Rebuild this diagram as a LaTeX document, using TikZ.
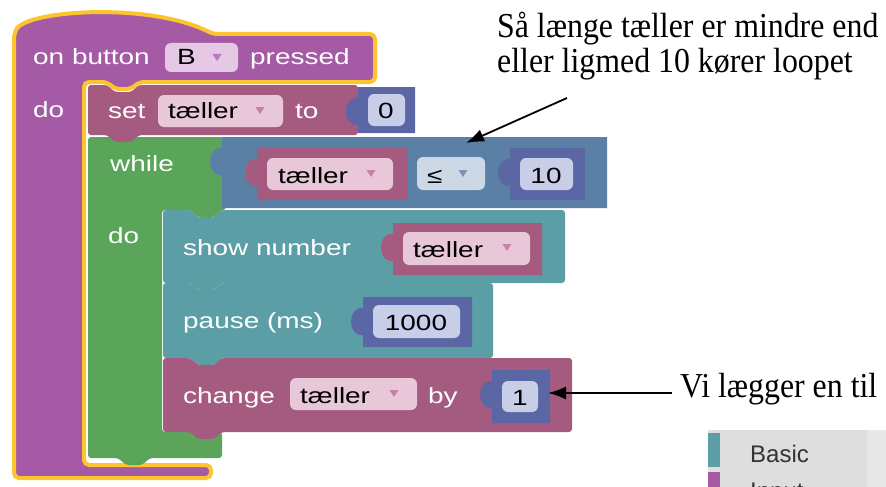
\documentclass[tikz,border=0pt]{standalone}
\usepackage{fontspec}
\setmainfont{Liberation Serif}
\newfontfamily\blokfont[FakeStretch=1.27]{Liberation Sans}
\newfontfamily\menufont{Liberation Sans}
\newfontfamily\notefont[FakeStretch=0.91]{Liberation Serif}
\usepackage{tikz}
\usetikzlibrary{arrows.meta, positioning}
\definecolor{lillaEvt}{RGB}{165,90,165}
\definecolor{gulValgt}{RGB}{252,196,46}
\definecolor{vinVar}{RGB}{165,91,128}
\definecolor{groenLoop}{RGB}{91,165,91}
\definecolor{blaaLogik}{RGB}{91,128,165}
\definecolor{blaaTal}{RGB}{91,103,165}
\definecolor{tealBasis}{RGB}{92,158,166}
\definecolor{feltVar}{RGB}{232,200,216}
\definecolor{feltEvt}{RGB}{228,200,228}
\definecolor{feltTal}{RGB}{200,205,232}
\definecolor{feltLogik}{RGB}{204,216,230}
\definecolor{pilVar}{RGB}{196,130,165}
\definecolor{pilEvt}{RGB}{190,120,190}
\definecolor{pilLogik}{RGB}{120,150,180}

% hak i toppen / tap i bunden af en blok
\newcommand{\dent}[2]{-- (#1,#2) -- ({#1+8},{#2+7}) -- ({#1+24},{#2+7}) -- ({#1+32},#2)}
\newcommand{\knob}[2]{-- ({#1+32},#2) -- ({#1+24},{#2+7}) -- ({#1+8},{#2+7}) -- (#1,#2)}
% vaerdiblok med tap i venstre side
\newcommand{\valblk}[5]{\fill[#5] (#1,#2) -- (#3,#2) -- (#3,#4) -- (#1,#4) -- (#1,{#2+38})
  .. controls ({#1-16},{#2+40}) and ({#1-16},{#2+9}) .. (#1,{#2+11}) -- cycle;}
\newcommand{\drop}[3]{\fill[#3] ({#1-4.5},{#2-3}) -- ({#1+4.5},{#2-3}) -- (#1,{#2+4}) -- cycle;}

\begin{document}
\begin{tikzpicture}[x=1pt, y=-1pt,
  lbl/.style={font=\blokfont\fontsize{22}{22}\selectfont, text=white, inner sep=0, anchor=base west},
  val/.style={font=\blokfont\fontsize{22}{22}\selectfont, text=black, inner sep=0, anchor=base west},
  felt/.style={rounded corners=6},
  note/.style={font=\notefont\fontsize{35}{35}\selectfont, align=left, inner sep=0},
  menu/.style={font=\menufont\fontsize{24}{24}\selectfont, text=black!80, inner sep=0, anchor=base west},
  pil/.style={-{Latex[length=18pt,width=13pt]}, line width=1.8pt}]
  \useasboundingbox (0,0) rectangle (886,487);

  % Hat-blok (on button B pressed)
  \filldraw[lillaEvt, draw=gulValgt, line width=4, rounded corners=5]
    (14,34) .. controls (26,10) and (150,2) .. (213,34) -- (375,34) -- (375,82)
    \knob{107}{82} -- (84,82) -- (84,465) -- (211,465) -- (211,478) -- (14,478) -- cycle;

  % while-loekke
  \fill[groenLoop, rounded corners=3] (88,137) -- (226,137) -- (226,210) \knob{190}{210}
    -- (162,210) -- (162,432) -- (222,432) -- (222,458) \knob{118}{458} -- (88,458) -- cycle;

  % set taeller to 0
  \fill[vinVar, rounded corners=3] (88,85) \dent{107}{85} -- (358,85) -- (358,135)
    \knob{107}{135} -- (88,135) -- cycle;
  \valblk{358}{87}{415}{133}{blaaTal}

  % betingelse
  \valblk{222}{137}{607}{208}{blaaLogik}
  \valblk{257}{148}{407}{200}{vinVar}
  \valblk{510}{148}{585}{200}{blaaTal}

  % krop
  \fill[tealBasis, rounded corners=3] (163,210) \dent{190}{210} -- (565,210) -- (565,283)
    \knob{190}{283} -- (163,283) -- cycle;
  \valblk{393}{223}{542}{275}{vinVar}
  \fill[tealBasis, rounded corners=3] (163,283) \dent{190}{283} -- (493,283) -- (493,358)
    \knob{190}{358} -- (163,358) -- cycle;
  \valblk{363}{297}{472}{347}{blaaTal}
  \fill[vinVar, rounded corners=3] (163,358) \dent{190}{358} -- (572,358) -- (572,432)
    \knob{190}{432} -- (163,432) -- cycle;
  \valblk{492}{370}{550}{423}{blaaTal}

  % felter
  \fill[feltEvt, felt] (165,43) rectangle (238,72);
  \foreach \xa/\ya/\xb/\yb in {158/95/283/127, 267/158/393/190, 403/232/530/265, 290/378/417/410}
    {\fill[feltVar, felt] (\xa,\ya) rectangle (\xb,\yb);}
  \foreach \xa/\ya/\xb/\yb in {368/94/405/126, 520/158/573/190, 373/305/460/338, 502/381/538/412}
    {\fill[feltTal, felt] (\xa,\ya) rectangle (\xb,\yb);}
  \fill[feltLogik, felt] (417,157) rectangle (485,190);
  \drop{217}{57}{pilEvt}
  \foreach \x/\y in {260/110, 371/173, 507/247, 394/393}
    {\drop{\x}{\y}{pilVar}}
  \drop{463}{173}{pilLogik}

  % tekst i blokkene
  \node[lbl] (onbtn) at (33,65) {on button};
  \node[lbl] (pressed) at (250,65) {pressed};
  \node[lbl] (do1) at (33,117) {do};
  \node[lbl] (set) at (108,118) {set};
  \node[lbl] (to) at (295,118) {to};
  \node[lbl] (while) at (110,171) {while};
  \node[lbl] (do2) at (108,243) {do};
  \node[lbl] (shownum) at (183,255) {show number};
  \node[lbl] (pause) at (183,328) {pause (ms)};
  \node[lbl] (change) at (183,403) {change};
  \node[lbl] (by) at (428,403) {by};

  \node[val] (knapB) at (177,65) {B};
  \node[val] (var1) at (168,118) {tæller};
  \node[val, anchor=base] (nul) at (386,118) {0};
  \node[val] (var2) at (278,183) {tæller};
  \node[val] (leq) at (427,183) {≤};
  \node[val, anchor=base] (ti) at (546,183) {10};
  \node[val] (var3) at (413,257) {tæller};
  \node[val, anchor=base] (tusind) at (416,330) {1000};
  \node[val] (var4) at (300,403) {tæller};
  \node[val, anchor=base] (en) at (520,405) {1};

  % kommentarer
  \node[note, anchor=north west] (note1) at (497,12) {Så længe tæller er mindre end\\eller ligmed 10 kører loopet};
  \coordinate (p1) at (567,98);
  \coordinate (p1end) at (466,143);
  \draw[pil] (p1) -- (p1end);
  \node[note, anchor=base west] (note2) at (680,397) {Vi lægger en til};
  \coordinate (p2) at (672,393);
  \coordinate (p2end) at (548,393);
  \draw[pil] (p2) -- (p2end);

  % menu nederst
  \fill[black!13] (708,430) rectangle (886,487);
  \fill[black!9] (867,430) rectangle (886,487);
  \fill[tealBasis] (708,433) rectangle (720,467);
  \fill[lillaEvt] (708,472) rectangle (720,487);
  \node[menu] (basic) at (750,462) {Basic};
  \begin{scope}
    \clip (700,430) rectangle (886,487);
    \node[menu] (input) at (750,499) {Input};
  \end{scope}
\end{tikzpicture}
\end{document}
